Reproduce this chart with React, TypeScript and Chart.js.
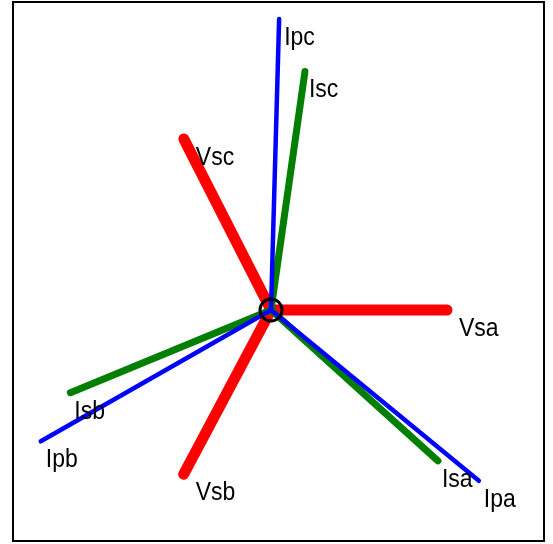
import React, { useEffect, useRef } from "react";
import { Chart, registerables } from "chart.js";

Chart.register(...registerables);

// Phasor labels and values (magnitude in arbitrary units, angle in degrees)
const vsLabels = ["Vsa", "Vsb", "Vsc"];
const vsMag = [1.76, 1.86, 1.92];
const vsAng = [0, -118, 117];

const ipLabels = ["Ipa", "Ipb", "Ipc"];
const ipMag = [2.69, 2.65, 2.91];
const ipAng = [-39.4, -150.3, 88.4];

const isLabels = ["Isa", "Isb", "Isc"];
const isMag = [2.25, 2.17, 2.41];
const isAng = [-42.1, -157.6, 81.9];

// Axis limits
const xMin = -2.57;
const xMax = 2.72;
const yMin = -2.3;
const yMax = 3.07;

const toXY = (m: number, a: number) => ({
  x: m * Math.cos((a * Math.PI) / 180),
  y: m * Math.sin((a * Math.PI) / 180),
});

const groups = [
  { labels: vsLabels, mag: vsMag, ang: vsAng, color: "#ff0000", width: 11, dx: 12, order: 3 },
  { labels: isLabels, mag: isMag, ang: isAng, color: "#007f00", width: 7, dx: 4, order: 2 },
  { labels: ipLabels, mag: ipMag, ang: ipAng, color: "#0000ff", width: 4.5, dx: 5, order: 1 },
];

export default function App() {
  const ref = useRef<HTMLCanvasElement | null>(null);

  useEffect(() => {
    if (!ref.current) return;
    const datasets: any[] = [];
    groups.forEach((g) => {
      g.labels.forEach((lab, i) => {
        datasets.push({
          label: lab,
          data: [{ x: 0, y: 0 }, toXY(g.mag[i], g.ang[i])],
          showLine: true,
          borderColor: g.color,
          backgroundColor: g.color,
          borderWidth: g.width,
          borderCapStyle: "round",
          pointRadius: 0,
          pointHoverRadius: 0,
          order: g.order,
          labelDx: g.dx,
          isPhasor: true,
        });
      });
    });
    datasets.push({
      label: "origin",
      data: [{ x: 0, y: 0 }],
      showLine: false,
      pointRadius: 11,
      pointBorderWidth: 3,
      pointBorderColor: "#000000",
      pointBackgroundColor: "rgba(0,0,0,0)",
      order: 0,
    });

    const labelPlugin = {
      id: "phasorLabels",
      afterDatasetsDraw(chart: any) {
        const ctx = chart.ctx;
        chart.data.datasets.forEach((ds: any, di: number) => {
          if (!ds.isPhasor) return;
          const el = chart.getDatasetMeta(di).data[1];
          ctx.save();
          ctx.font = '23px "Liberation Sans", Arial, sans-serif';
          ctx.fillStyle = "#000";
          ctx.textAlign = "left";
          ctx.textBaseline = "alphabetic";
          ctx.translate(el.x + ds.labelDx, el.y + 26);
          ctx.scale(1, 1.12);
          ctx.fillText(ds.label, 0, 0);
          ctx.restore();
        });
      },
    };

    const chart = new Chart(ref.current, {
      type: "scatter",
      data: { datasets },
      options: {
        animation: false,
        responsive: false,
        events: [],
        layout: { padding: 0, autoPadding: false },
        plugins: { legend: { display: false }, tooltip: { enabled: false } },
        scales: {
          x: { type: "linear", display: false, min: xMin, max: xMax },
          y: { type: "linear", display: false, min: yMin, max: yMax },
        },
      } as any,
      plugins: [labelPlugin],
    });
    return () => chart.destroy();
  }, []);

  return (
    <div
      style={{
        position: "fixed",
        left: 12,
        top: 1,
        width: 533,
        height: 541,
        border: "2px solid #000",
        boxSizing: "border-box",
        background: "#fff",
      }}
    >
      <canvas ref={ref} width={529} height={537} style={{ display: "block", width: 529, height: 537 }} />
    </div>
  );
}
